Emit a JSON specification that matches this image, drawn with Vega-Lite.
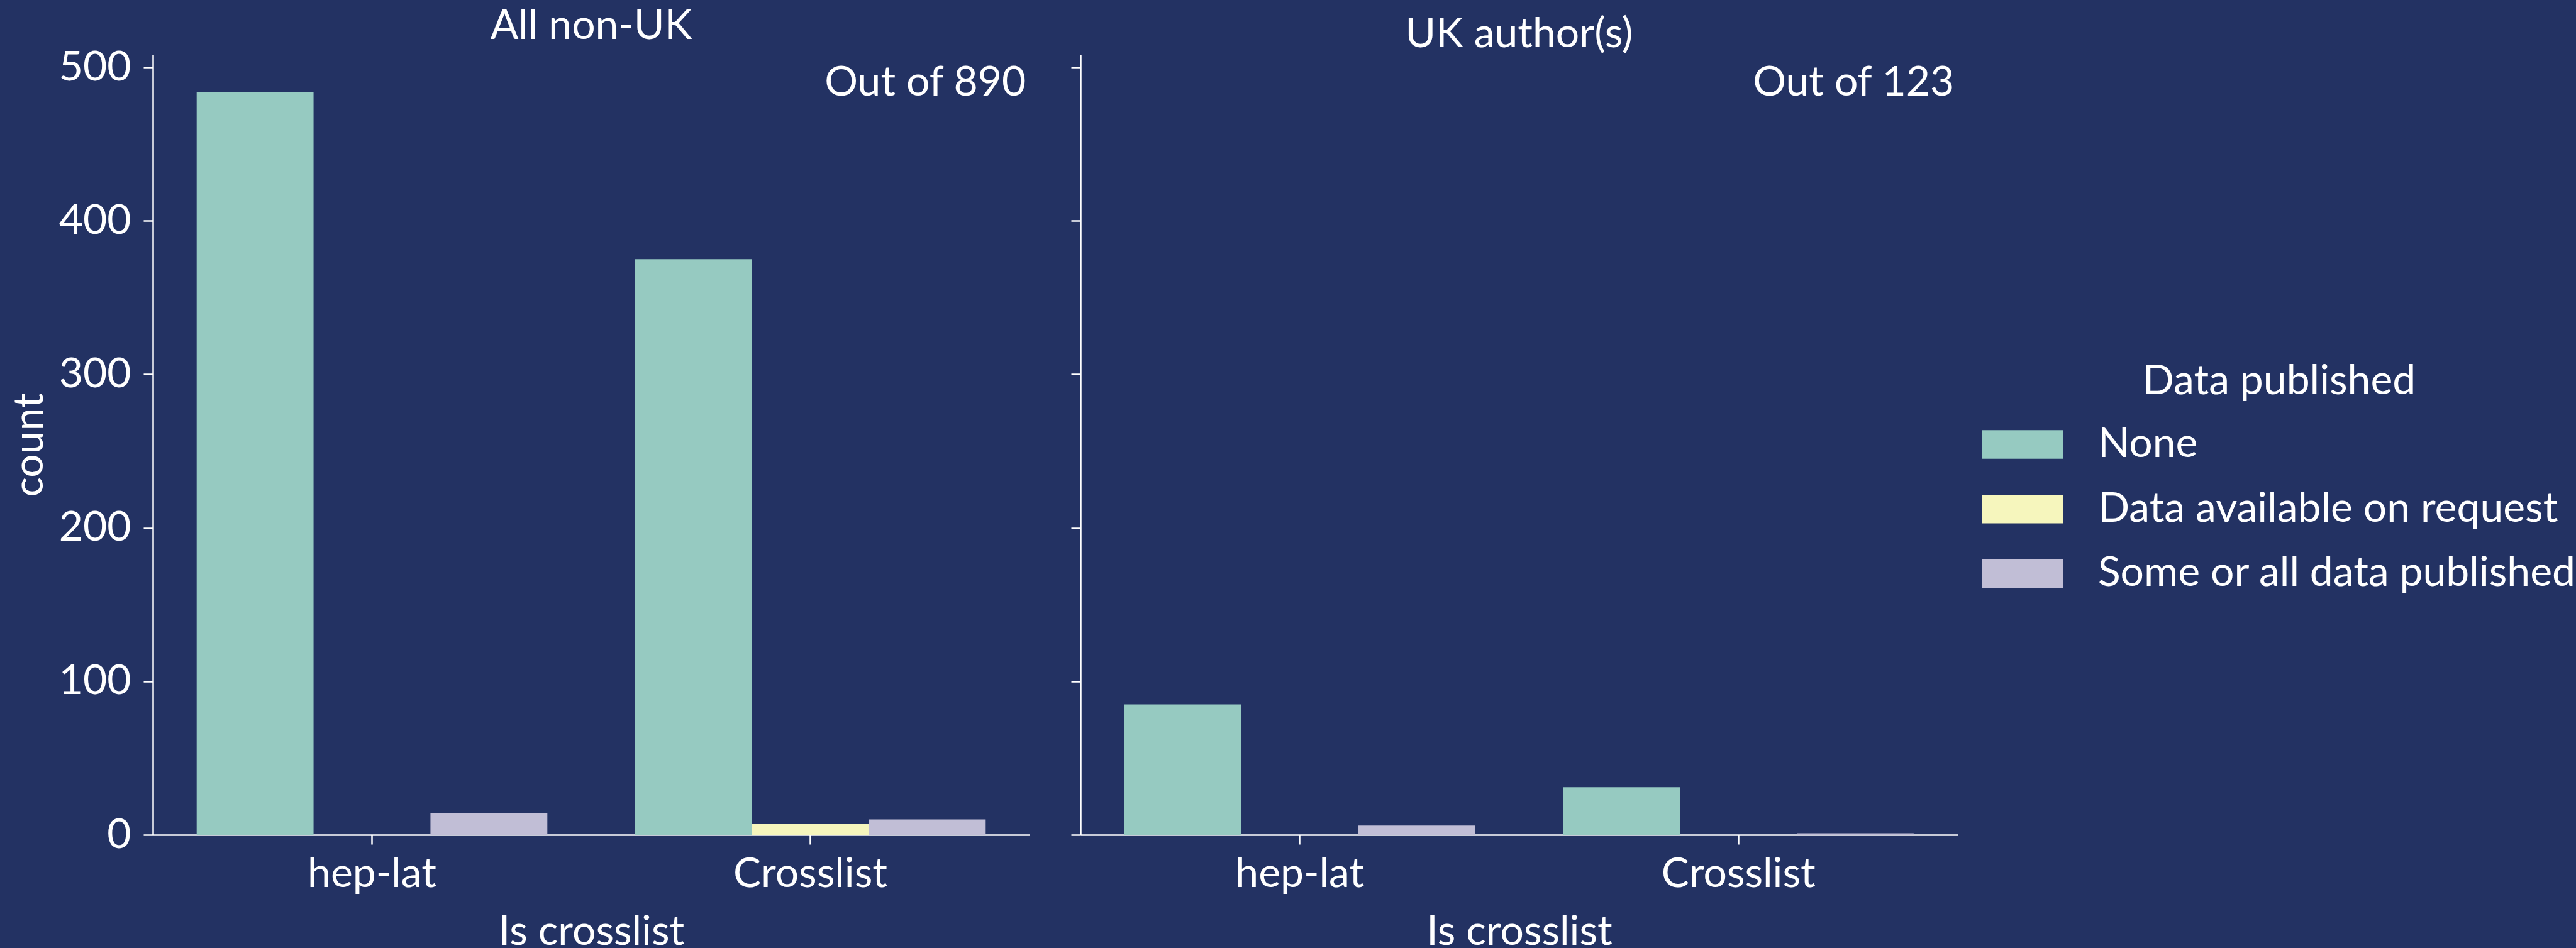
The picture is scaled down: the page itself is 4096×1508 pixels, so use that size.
{
  "$schema": "https://vega.github.io/schema/vega-lite/v6.json",
  "background": "#233263",
  "padding": {"left": 14, "top": 9, "right": 0, "bottom": 0},
  "datasets": {
    "counts": [
      {"authors": "All non-UK", "crosslist": "hep-lat", "published": "None", "count": 484},
      {"authors": "All non-UK", "crosslist": "hep-lat", "published": "Data available on request", "count": 0},
      {"authors": "All non-UK", "crosslist": "hep-lat", "published": "Some or all data published", "count": 14},
      {"authors": "All non-UK", "crosslist": "Crosslist", "published": "None", "count": 375},
      {"authors": "All non-UK", "crosslist": "Crosslist", "published": "Data available on request", "count": 7},
      {"authors": "All non-UK", "crosslist": "Crosslist", "published": "Some or all data published", "count": 10},
      {"authors": "UK author(s)", "crosslist": "hep-lat", "published": "None", "count": 85},
      {"authors": "UK author(s)", "crosslist": "hep-lat", "published": "Data available on request", "count": 0},
      {"authors": "UK author(s)", "crosslist": "hep-lat", "published": "Some or all data published", "count": 6},
      {"authors": "UK author(s)", "crosslist": "Crosslist", "published": "None", "count": 31},
      {"authors": "UK author(s)", "crosslist": "Crosslist", "published": "Data available on request", "count": 0},
      {"authors": "UK author(s)", "crosslist": "Crosslist", "published": "Some or all data published", "count": 1}
    ]
  },
  "data": {"name": "counts"},
  "spacing": 81,
  "bounds": "flush",
  "hconcat": [
    {
      "width": 1394,
      "height": 1241,
      "title": {"text": "All non-UK"},
      "transform": [{"filter": "datum.authors === 'All non-UK'"}],
      "layer": [
        {
          "mark": {"type": "bar"},
          "encoding": {
            "x": {
              "field": "crosslist", "type": "nominal", "sort": ["hep-lat", "Crosslist"],
              "scale": {"paddingInner": 0.2, "paddingOuter": 0.1},
              "axis": {"title": "Is crosslist"}
            },
            "xOffset": {
              "field": "published", "type": "nominal",
              "sort": ["None", "Data available on request", "Some or all data published"],
              "scale": {"paddingInner": 0, "paddingOuter": 0}
            },
            "y": {
              "field": "count", "type": "quantitative",
              "scale": {"domain": [0, 508.2], "nice": false},
              "axis": {"values": [0, 100, 200, 300, 400, 500], "title": "count"}
            },
            "color": {
              "field": "published", "type": "nominal",
              "scale": {
                "domain": ["None", "Data available on request", "Some or all data published"],
                "range": ["#96cac1", "#f6f6bd", "#c1bed6"]
              },
              "legend": {"title": "Data published"}
            }
          }
        },
        {
          "transform": [
            {"aggregate": [{"op": "sum", "field": "count", "as": "total"}]},
            {"calculate": "'Out of ' + datum.total", "as": "label"}
          ],
          "mark": {"type": "text", "align": "right", "baseline": "alphabetic", "dx": 64, "dy": 45, "fontSize": 66, "font": "Lato", "color": "#ffffff"},
          "encoding": {
            "x": {"datum": "Crosslist", "bandPosition": 1},
            "y": {"datum": 500},
            "text": {"field": "label"}
          }
        }
      ]
    },
    {
      "width": 1395,
      "height": 1241,
      "title": {"text": "UK author(s)"},
      "transform": [{"filter": "datum.authors === 'UK author(s)'"}],
      "layer": [
        {
          "mark": {"type": "bar"},
          "encoding": {
            "x": {
              "field": "crosslist", "type": "nominal", "sort": ["hep-lat", "Crosslist"],
              "scale": {"paddingInner": 0.2, "paddingOuter": 0.1},
              "axis": {"title": "Is crosslist"}
            },
            "xOffset": {
              "field": "published", "type": "nominal",
              "sort": ["None", "Data available on request", "Some or all data published"],
              "scale": {"paddingInner": 0, "paddingOuter": 0}
            },
            "y": {
              "field": "count", "type": "quantitative",
              "scale": {"domain": [0, 508.2], "nice": false},
              "axis": {"values": [0, 100, 200, 300, 400, 500], "title": null, "labels": false}
            },
            "color": {
              "field": "published", "type": "nominal",
              "scale": {
                "domain": ["None", "Data available on request", "Some or all data published"],
                "range": ["#96cac1", "#f6f6bd", "#c1bed6"]
              },
              "legend": {"title": "Data published"}
            }
          }
        },
        {
          "transform": [
            {"aggregate": [{"op": "sum", "field": "count", "as": "total"}]},
            {"calculate": "'Out of ' + datum.total", "as": "label"}
          ],
          "mark": {"type": "text", "align": "right", "baseline": "alphabetic", "dx": 64, "dy": 45, "fontSize": 66, "font": "Lato", "color": "#ffffff"},
          "encoding": {
            "x": {"datum": "Crosslist", "bandPosition": 1},
            "y": {"datum": 500},
            "text": {"field": "label"}
          }
        }
      ]
    }
  ],
  "config": {
    "font": "Lato",
    "view": {"stroke": null},
    "bar": {"stroke": null},
    "title": {"color": "#ffffff", "fontSize": 66, "fontWeight": "normal", "font": "Lato", "offset": -2, "baseline": "alphabetic", "limit": 2000},
    "axis": {
      "grid": false,
      "domainColor": "#ffffff", "domainWidth": 2.5,
      "tickColor": "#ffffff", "tickWidth": 2.5, "tickSize": 15,
      "labelColor": "#ffffff", "labelFontSize": 66, "labelFont": "Lato", "labelLimit": 2000,
      "titleColor": "#ffffff", "titleFontSize": 66, "titleFont": "Lato", "titleFontWeight": "normal", "titleLimit": 3000
    },
    "axisX": {"labelAngle": 0, "labelPadding": 15, "titlePadding": 27},
    "axisY": {"labelPadding": 20, "titlePadding": 12},
    "legend": {
      "orient": "none", "legendX": 2908, "legendY": 488,
      "padding": 0,
      "titleAnchor": "middle", "titleColor": "#ffffff", "titleFontSize": 66, "titleFontWeight": "normal", "titleFont": "Lato", "titlePadding": 26, "titleLimit": 2000,
      "labelColor": "#ffffff", "labelFontSize": 66, "labelFont": "Lato", "labelOffset": 55, "labelLimit": 2000,
      "symbolType": "M-1,-0.352H1V0.352H-1Z", "symbolSize": 16770, "symbolStrokeWidth": 0, "symbolOpacity": 1,
      "clipHeight": 80, "rowPadding": 22.7
    }
  }
}
